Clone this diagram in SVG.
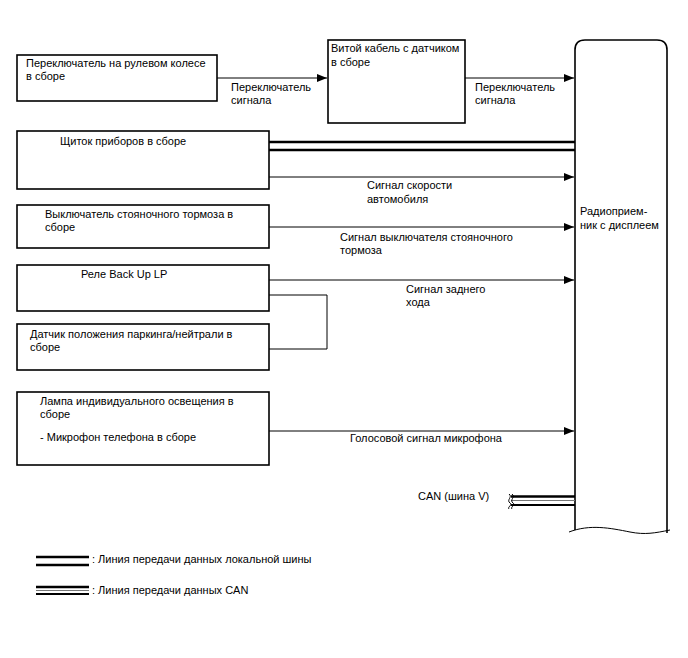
<svg xmlns="http://www.w3.org/2000/svg" width="688" height="658" viewBox="0 0 688 658">
<defs>
<marker id="ah" markerWidth="10" markerHeight="8" refX="10" refY="4" orient="auto" markerUnits="userSpaceOnUse">
<path d="M0,0 L10,4 L0,8 Z" fill="#000"/>
</marker>
<style>
text{font-family:"Liberation Sans",Arial,sans-serif;font-size:11px;fill:#000}
.box{fill:#fff;stroke:#000;stroke-width:1.6}
.ln{fill:none;stroke:#000;stroke-width:1}
.arr{fill:none;stroke:#000;stroke-width:1;marker-end:url(#ah)}
.bus{fill:none;stroke:#000;stroke-width:2.5}
.thin{fill:none;stroke:#777;stroke-width:1}
</style>
</defs>
<rect width="688" height="658" fill="#fff"/>

<g id="radio">
<path class="box" d="M575,530 L575,50 Q575,40 585,40 L657,40 Q667,40 667,50 L667,533" fill="#fff"/>
<path class="ln" stroke-width="1.2" d="M569,532 C590,524 610,528 630,532 C645,535 655,533 670,530"/>
<text x="580" y="215">Радиоприем-</text>
<text x="580" y="229">ник с дисплеем</text>
</g>

<g id="steering-switch">
<rect class="box" x="17" y="55" width="200" height="46"/>
<text x="26" y="67">Переключатель на рулевом колесе</text>
<text x="26" y="80">в сборе</text>
</g>

<g id="spiral-cable">
<rect class="box" x="328" y="40" width="137" height="83"/>
<text x="331" y="52">Витой кабель с датчиком</text>
<text x="331" y="66">в сборе</text>
</g>

<g id="combination-meter">
<rect class="box" x="17" y="131" width="252" height="58"/>
<text x="60" y="145">Щиток приборов в сборе</text>
</g>

<g id="parking-brake-switch">
<rect class="box" x="17" y="205" width="252" height="43"/>
<text x="45" y="218">Выключатель стояночного тормоза в</text>
<text x="45" y="231">сборе</text>
</g>

<g id="backup-relay">
<rect class="box" x="17" y="265" width="252" height="46"/>
<text x="81" y="278">Реле Back Up LP</text>
</g>

<g id="park-neutral-sensor">
<rect class="box" x="17" y="324" width="252" height="46"/>
<text x="30" y="338">Датчик положения паркинга/нейтрали в</text>
<text x="30" y="351">сборе</text>
</g>

<g id="map-lamp">
<rect class="box" x="17" y="392" width="252" height="73"/>
<text x="40" y="405">Лампа индивидуального освещения в</text>
<text x="40" y="418">сборе</text>
<text x="40" y="441">- Микрофон телефона в сборе</text>
</g>

<g id="connectors">
<line class="arr" x1="217" y1="78" x2="327" y2="78"/>
<text x="231" y="91">Переключатель</text>
<text x="231" y="104">сигнала</text>

<line class="arr" x1="465" y1="78" x2="574" y2="78"/>
<text x="475" y="91">Переключатель</text>
<text x="475" y="104">сигнала</text>

<line class="bus" x1="269" y1="142" x2="575" y2="142"/>
<line class="bus" x1="269" y1="150" x2="575" y2="150"/>

<line class="arr" x1="269" y1="177" x2="574" y2="177"/>
<text x="367" y="189">Сигнал скорости</text>
<text x="367" y="203">автомобиля</text>

<line class="arr" x1="269" y1="227" x2="574" y2="227"/>
<text x="340" y="241">Сигнал выключателя стояночного</text>
<text x="340" y="254">тормоза</text>

<line class="arr" x1="269" y1="280" x2="574" y2="280"/>
<text x="406" y="293">Сигнал заднего</text>
<text x="406" y="306">хода</text>

<path class="ln" stroke="#444" d="M269,295 H327 V349 H269"/>

<line class="arr" x1="269" y1="431" x2="574" y2="431"/>
<text x="350" y="442">Голосовой сигнал микрофона</text>

<text x="418" y="500">CAN (шина V)</text>
<line x1="511" y1="496.5" x2="575" y2="496.5" stroke="#000" stroke-width="2.5"/>
<line class="thin" x1="511" y1="500.5" x2="575" y2="500.5"/>
<line x1="511" y1="505" x2="575" y2="505" stroke="#000" stroke-width="2"/>
<path class="ln" stroke-width="0.8" d="M509,494 C513,497 506,500 510,503 C513,505 507,507 509,509"/>
<path class="ln" stroke-width="0.8" d="M512,494 C516,497 509,500 513,503 C516,505 510,507 512,509"/>
</g>

<g id="legend">
<line x1="36" y1="557" x2="89" y2="557" stroke="#000" stroke-width="2.5"/>
<line x1="36" y1="565" x2="89" y2="565" stroke="#000" stroke-width="2.5"/>
<text x="92" y="563">: Линия передачи данных локальной шины</text>
<line x1="36" y1="587" x2="89" y2="587" stroke="#000" stroke-width="2.5"/>
<line x1="36" y1="590.5" x2="89" y2="590.5" stroke="#777" stroke-width="1"/>
<line x1="36" y1="594" x2="89" y2="594" stroke="#000" stroke-width="2"/>
<text x="92" y="594">: Линия передачи данных CAN</text>
</g>
</svg>
